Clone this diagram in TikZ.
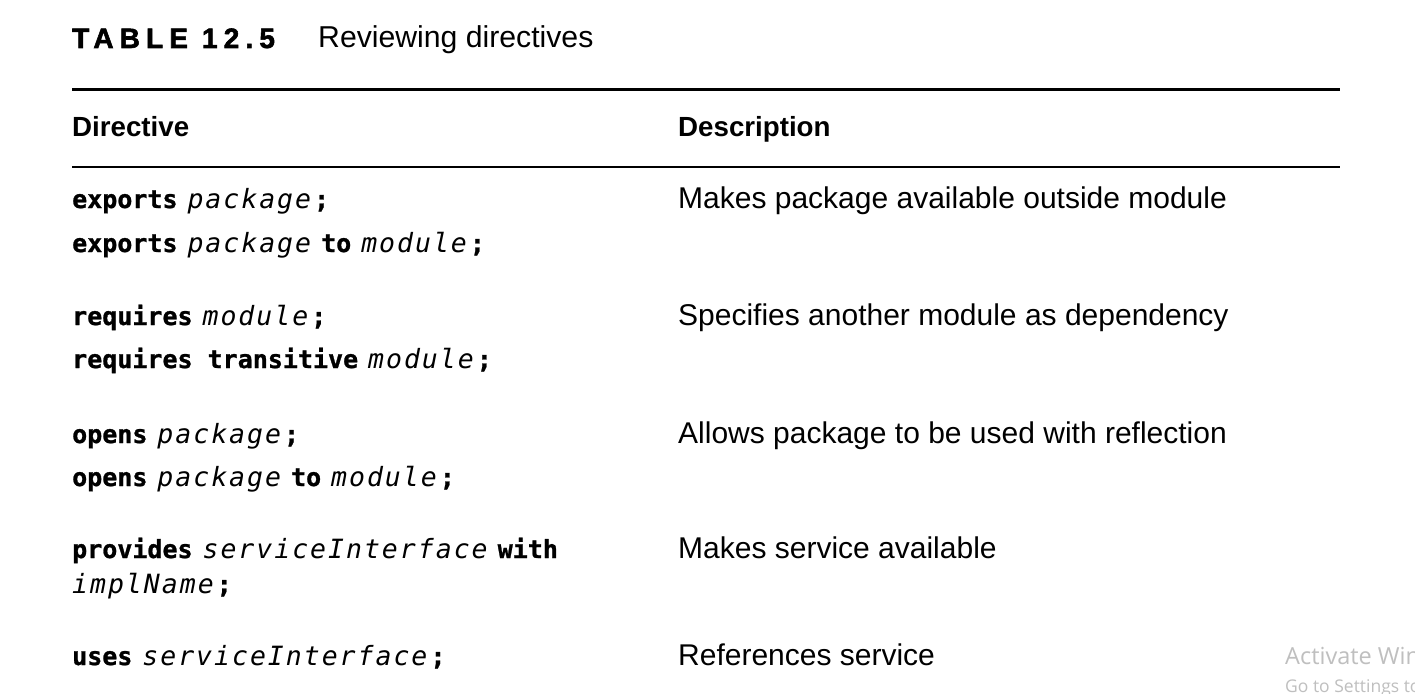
\documentclass[tikz,border=0pt]{standalone}
\usepackage{fontspec}
\setmainfont{Liberation Sans}
\newfontfamily\codefont[BoldFeatures={FakeBold=1}]{DejaVu Sans Mono}
\newfontfamily\varfont[LetterSpace=7.5]{DejaVu Sans Mono}
\newfontfamily\titlefont[LetterSpace=22,FakeBold=2]{Liberation Sans}
\newfontfamily\winfont{Open Sans}
\newcommand\kw[1]{{\codefont\bfseries #1}}
\newcommand\vr[1]{{\varfont\itshape\fontsize{26.5}{30}\selectfont #1}}
\newcommand\gp{\hspace{10pt}}
\newcommand\semi{\hspace{3pt}{\codefont\bfseries ;}}

\tikzset{
  code/.style={anchor=base west,inner sep=0pt,font=\fontsize{25}{30}\selectfont},
  desc/.style={anchor=base west,inner sep=0pt,font=\fontsize{30}{36}\selectfont},
  head/.style={anchor=base west,inner sep=0pt,font=\fontsize{27.7}{33}\selectfont\bfseries},
  win/.style={anchor=base west,inner sep=0pt,text=black!25,font=\winfont\fontsize{#1}{#1}\selectfont}
}

\begin{document}
\begin{tikzpicture}[x=1pt,y=-1pt]
\useasboundingbox[fill=white] (0,0) rectangle (1415,693);

\coordinate (A) at (72,89.5);
\coordinate (B) at (1340,89.5);
\coordinate (C) at (72,167);
\coordinate (D) at (1340,167);

\node[anchor=base west,inner sep=0pt,font=\titlefont\bfseries\fontsize{28}{32}\selectfont] (T) at (72,48) {TABLE 12.5};
\node[anchor=base west,inner sep=0pt,font=\fontsize{30.2}{36}\selectfont] (R) at (318,48) {Reviewing directives};

\draw[line width=3.5pt] (A) -- (B);
\node[head] (H1) at (72,136) {Directive};
\node[head] (H2) at (678,136) {Description};
\draw[line width=2pt] (C) -- (D);

% directives
\node[code] (e1) at (72,208) {\kw{exports}\gp\vr{package}\semi};
\node[code] (e2) at (72,252) {\kw{exports}\gp\vr{package}\gp\kw{to}\gp\vr{module}\semi};
\node[code] (r1) at (72,325) {\kw{requires}\gp\vr{module}\semi};
\node[code] (r2) at (72,368) {\kw{requires transitive}\gp\vr{module}\semi};
\node[code] (o1) at (72,443) {\kw{opens}\gp\vr{package}\semi};
\node[code] (o2) at (72,486) {\kw{opens}\gp\vr{package}\gp\kw{to}\gp\vr{module}\semi};
\node[code] (p1) at (72,558) {\kw{provides}\gp\vr{serviceInterface}\gp\kw{with}};
\node[code] (p2) at (72,593) {\vr{implName}\semi};
\node[code] (u1) at (72,665) {\kw{uses}\gp\vr{serviceInterface}\semi};

% descriptions
\node[desc] (d1) at (678,208) {Makes package available outside module};
\node[desc] (d2) at (678,325) {Specifies another module as dependency};
\node[desc] (d3) at (678,443) {Allows package to be used with reflection};
\node[desc] (d4) at (678,558) {Makes service available};
\node[desc] (d5) at (678,665) {References service};

\begin{scope}
\clip (0,0) rectangle (1415,693);
\node[win=23.5] (W1) at (1285,664) {Activate Windows};
\node[win=17.5] (W2) at (1285,692) {Go to Settings to activate Windows.};
\end{scope}
\end{tikzpicture}
\end{document}
